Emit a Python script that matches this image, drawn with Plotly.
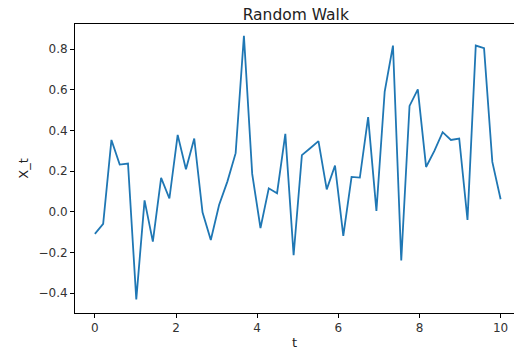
import numpy as np
import plotly.graph_objects as go

t = np.linspace(0, 10, 50)
x_t = [-0.108, -0.059, 0.354, 0.233, 0.238, -0.430, 0.057, -0.146, 0.167, 0.066,
       0.379, 0.210, 0.361, -0.002, -0.138, 0.034, 0.149, 0.289, 0.866, 0.187,
       -0.079, 0.116, 0.092, 0.384, -0.213, 0.279, 0.313, 0.348, 0.111, 0.228,
       -0.118, 0.172, 0.169, 0.466, 0.005, 0.592, 0.818, -0.239, 0.521, 0.603,
       0.221, 0.300, 0.392, 0.354, 0.361, -0.039, 0.818, 0.805, 0.246, 0.062]

x_ticks = [0, 2, 4, 6, 8, 10]
y_ticks = [-0.4, -0.2, 0.0, 0.2, 0.4, 0.6, 0.8]
y_tick_labels = ["\u22120.4", "\u22120.2", "0.0", "0.2", "0.4", "0.6", "0.8"]

fig = go.Figure()
fig.add_trace(go.Scatter(x=t, y=x_t, mode="lines",
                         line=dict(color="#1f77b4", width=1.8)))

axis_common = dict(showgrid=False, zeroline=False, showline=True, linecolor="#000",
                   linewidth=1, mirror=True, ticks="outside", ticklen=4,
                   tickcolor="#000", tickfont=dict(size=12, color="#333"))

fig.update_layout(
    width=514, height=356,
    margin=dict(l=75, r=0, t=24, b=43),
    paper_bgcolor="white", plot_bgcolor="white",
    font=dict(family="DejaVu Sans", color="#222"),
    showlegend=False,
    title=dict(text="Random Walk", x=0.5755, xanchor="center", y=0.975, yanchor="top",
               font=dict(size=15.5, color="#222")),
    xaxis=dict(range=[-0.49, 10.33], tickvals=x_ticks, ticktext=[str(v) for v in x_ticks],
               title=dict(text="t", font=dict(size=13, color="#222"), standoff=3),
               **axis_common),
    yaxis=dict(range=[-0.497, 0.924], tickvals=y_ticks, ticktext=y_tick_labels,
               title=dict(text="X_t", font=dict(size=13, color="#222"), standoff=6),
               **axis_common),
)

fig.write_html("out.html")
